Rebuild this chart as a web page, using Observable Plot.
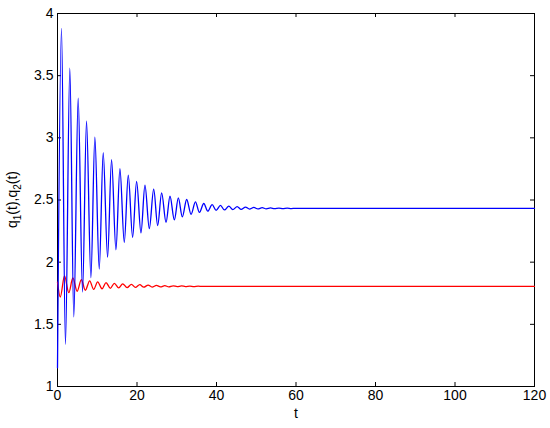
<!DOCTYPE html>
<html>
<head>
<meta charset="utf-8">
<script src="https://cdn.jsdelivr.net/npm/d3@7"></script>
<script src="https://cdn.jsdelivr.net/npm/@observablehq/plot@0.6"></script>
<style>
  html, body { margin: 0; padding: 0; background: #fff; }
</style>
</head>
<body>
<div id="chart"></div>
<script>
// Extrema of q1(t) (blue)
const q1Times = [0, 1.0, 2.0, 3.1, 4.1, 5.2, 6.3, 7.3, 8.4, 9.4, 10.5, 11.5, 12.6, 13.6, 14.7, 15.7, 16.8, 17.8, 18.9, 19.9,
  21.0, 22.0, 23.1, 24.2, 25.2, 26.2, 27.3, 28.3, 29.4, 30.4, 31.4, 32.5, 33.6, 34.7, 35.7, 36.8, 37.8, 38.9, 39.9,
  41.0, 42.0, 43.1, 44.1, 45.2, 46.2, 47.3, 48.3, 49.4, 50.4, 51.5, 52.5, 53.6, 54.6, 55.7, 56.7, 57.8, 58.8, 59.9,
  61.0, 62.0, 63.0, 120];
const q1Values = [1.15, 3.88, 1.34, 3.56, 1.56, 3.32, 1.76, 3.135, 1.875, 3.005, 1.945, 2.88, 2.04, 2.825, 2.10, 2.753, 2.16, 2.70, 2.20, 2.65,
  2.235, 2.62, 2.27, 2.587, 2.295, 2.557, 2.32, 2.53, 2.34, 2.517, 2.364, 2.504, 2.385, 2.485, 2.40, 2.472, 2.41, 2.463, 2.417,
  2.456, 2.42, 2.451, 2.423, 2.447, 2.425, 2.443, 2.427, 2.440, 2.428, 2.438, 2.429, 2.436, 2.430, 2.435, 2.431, 2.434, 2.431, 2.433,
  2.432, 2.433, 2.432, 2.432];

// Extrema of q2(t) (red)
const q2Times = [0, 0.7, 1.76, 2.85, 3.86, 4.95, 6.0, 7.0, 8.1, 9.1, 10.1, 11.2, 12.2, 13.3, 14.3, 15.4, 16.4, 17.5, 18.6, 19.6,
  20.7, 21.7, 22.8, 23.8, 24.9, 25.9, 27.0, 28.0, 29.1, 30.1, 31.2, 32.2, 33.3, 34.3, 35.4, 36.4, 120];
const q2Values = [1.84, 1.72, 1.889, 1.755, 1.873, 1.766, 1.86, 1.774, 1.85, 1.781, 1.842, 1.786, 1.836, 1.790, 1.830, 1.793, 1.826, 1.795, 1.822, 1.797,
  1.819, 1.799, 1.816, 1.800, 1.813, 1.801, 1.811, 1.802, 1.810, 1.803, 1.809, 1.804, 1.808, 1.804, 1.807, 1.805, 1.806];

const xTicks = [0, 20, 40, 60, 80, 100, 120];
const yTicks = [1, 1.5, 2, 2.5, 3, 3.5, 4];

const q1 = q1Times.map((t, i) => ({t, v: q1Values[i]}));
const q2 = q2Times.map((t, i) => ({t, v: q2Values[i]}));

const W = 550, H = 428;
const mL = 57, mR = 16, mT = 13, mB = 42;
const innerW = W - mL - mR, innerH = H - mT - mB;
const tick = 4;

const svg = Plot.plot({
  width: W, height: H,
  marginLeft: mL, marginRight: mR, marginTop: mT, marginBottom: mB,
  x: {domain: [0, 120]},
  y: {domain: [1, 4]},
  style: {fontFamily: "'Liberation Sans', Arial, Helvetica, sans-serif", fontSize: "14px", background: "white", color: "black"},
  marks: [
    Plot.frame({stroke: "black", strokeWidth: 1}),
    Plot.tickX(xTicks, {x: d => d, insetTop: innerH - tick, stroke: "black"}),
    Plot.tickX(xTicks, {x: d => d, insetBottom: innerH - tick, stroke: "black"}),
    Plot.tickY(yTicks, {y: d => d, insetRight: innerW - tick, stroke: "black"}),
    Plot.tickY(yTicks, {y: d => d, insetLeft: innerW - tick, stroke: "black"}),
    Plot.axisX(xTicks, {tickSize: 0, tickPadding: 4, label: null, tickFormat: d => String(d), fill: "black"}),
    Plot.axisY(yTicks, {tickSize: 0, tickPadding: 4, label: null, tickFormat: d => String(d), fill: "black"}),
    Plot.text(["t"], {frameAnchor: "bottom", dy: 31, fill: "black", fontSize: 14}),
    Plot.line(q2, {x: "t", y: "v", stroke: "#ff0000", strokeWidth: 1.3, curve: "monotone-x"}),
    Plot.line(q1, {x: "t", y: "v", stroke: "#0000ff", strokeWidth: 1.3, curve: "monotone-x"})
  ]
});

// y-axis label with subscripts
const ns = "http://www.w3.org/2000/svg";
const lab = document.createElementNS(ns, "text");
lab.setAttribute("transform", `translate(17,${mT + innerH / 2}) rotate(-90)`);
lab.setAttribute("text-anchor", "middle");
lab.setAttribute("font-size", "14");
lab.setAttribute("font-family", "'Liberation Sans', Arial, sans-serif");
lab.setAttribute("fill", "black");
const parts = [["q", 0, 14], ["1", 4, 10], ["(t),q", -4, 14], ["2", 4, 10], ["(t)", -4, 14]];
for (const [s, dy, fs] of parts) {
  const ts = document.createElementNS(ns, "tspan");
  ts.textContent = s;
  if (dy) ts.setAttribute("dy", dy);
  ts.setAttribute("font-size", fs);
  lab.appendChild(ts);
}
svg.appendChild(lab);

document.getElementById("chart").appendChild(svg);
</script>
</body>
</html>
